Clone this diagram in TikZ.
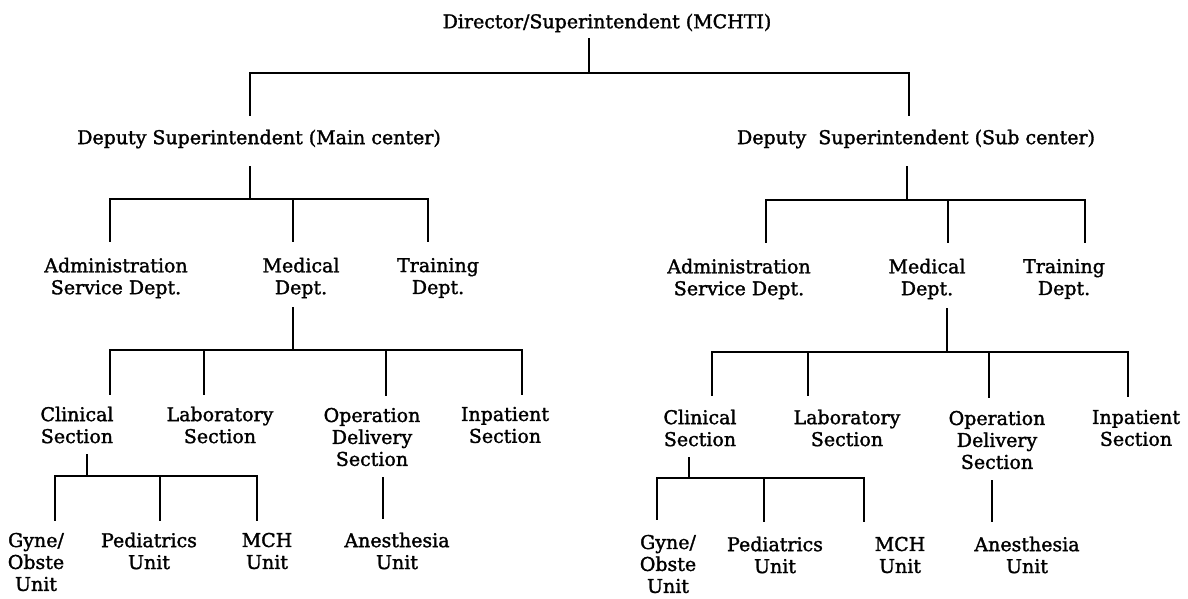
\documentclass[tikz,border=0pt]{standalone}
\usepackage{fontspec}
\setmainfont{DejaVu Serif}
\newfontfamily\chartfont[FakeBold=1.6]{DejaVu Serif}
\begin{document}
\begin{tikzpicture}[x=0.025cm, y=-0.025cm,
  unit/.style={align=center, inner sep=0pt, font=\chartfont\fontsize{13.5}{15.6}\selectfont},
  link/.style={line width=1.5pt, line cap=rect}]
\useasboundingbox (0,0) rectangle (1188,598);

% top level
\node[unit] (dir) at (607,23) {Director/Superintendent (MCHTI)};
\node[unit] (dm) at (259,139) {Deputy Superintendent (Main center)};
\node[unit] (ds) at (916,139) {Deputy\ \ Superintendent (Sub center)};

% main center
\node[unit] (admL) at (116,278) {Administration\\Service Dept.};
\node[unit] (medL) at (301,278) {Medical\\Dept.};
\node[unit] (trnL) at (438,278) {Training\\Dept.};
\node[unit] (cliL) at (77,425) {Clinical\\Section};
\node[unit] (labL) at (220,425) {Laboratory\\Section};
\node[unit] (opL) at (372,437) {Operation\\Delivery\\Section};
\node[unit] (inpL) at (505,425) {Inpatient\\Section};
\node[unit] (gynL) at (36,562) {Gyne/\\Obste\\Unit};
\node[unit] (pedL) at (149,551) {Pediatrics\\Unit};
\node[unit] (mchL) at (267,551) {MCH\\Unit};
\node[unit] (aneL) at (397,551) {Anesthesia\\Unit};

% sub center
\node[unit] (admR) at (739,279) {Administration\\Service Dept.};
\node[unit] (medR) at (927,279) {Medical\\Dept.};
\node[unit] (trnR) at (1064,279) {Training\\Dept.};
\node[unit] (cliR) at (700,428) {Clinical\\Section};
\node[unit] (labR) at (847,428) {Laboratory\\Section};
\node[unit] (opR) at (997,440) {Operation\\Delivery\\Section};
\node[unit] (inpR) at (1136,428) {Inpatient\\Section};
\node[unit] (gynR) at (668,564) {Gyne/\\Obste\\Unit};
\node[unit] (pedR) at (775,555) {Pediatrics\\Unit};
\node[unit] (mchR) at (900,555) {MCH\\Unit};
\node[unit] (aneR) at (1027,555) {Anesthesia\\Unit};

% director
\draw[link, shorten <=5pt] (589,0 |- dir.south) -- (589,73);
\draw[link, shorten <=10pt, shorten >=10pt] (250,0 |- dm.north) |- (909,73) -- (909,0 |- ds.north);

% deputies
\draw[link, shorten <=13pt] (250,0 |- dm.south) -- (250,199);
\draw[link, shorten <=12pt, shorten >=12pt] (110,0 |- admL.north) |- (428,199) -- (428,0 |- trnL.north);
\draw[link, shorten >=12pt] (293,199) -- (293,0 |- medL.north);
\draw[link, shorten <=13pt] (907,0 |- ds.south) -- (907,200);
\draw[link, shorten <=12pt, shorten >=12pt] (766,0 |- admR.north) |- (1085,200) -- (1085,0 |- trnR.north);
\draw[link, shorten >=12pt] (948,200) -- (948,0 |- medR.north);

% medical depts
\draw[link, shorten <=7pt] (293,0 |- medL.south) -- (293,350);
\draw[link, shorten <=9pt, shorten >=9pt] (110,0 |- cliL.north) |- (522,350) -- (522,0 |- inpL.north);
\foreach \x/\n in {204/labL, 386/opL}
  \draw[link, shorten >=9pt] (\x,350) -- (\x,0 |- \n.north);
\draw[link, shorten <=7pt] (947,0 |- medR.south) -- (947,352);
\draw[link, shorten <=10pt, shorten >=10pt] (712,0 |- cliR.north) |- (1128,352) -- (1128,0 |- inpR.north);
\foreach \x/\n in {808/labR, 989/opR}
  \draw[link, shorten >=10pt] (\x,352) -- (\x,0 |- \n.north);

% sections
\draw[link, shorten <=8pt] (87,0 |- cliL.south) -- (87,476);
\draw[link, shorten <=9pt, shorten >=9pt] (55,0 |- gynL.north) |- (257,476) -- (257,0 |- mchL.north);
\draw[link, shorten >=9pt] (160,476) -- (160,0 |- pedL.north);
\draw[link, shorten <=8pt, shorten >=10pt] (383,0 |- opL.south) -- (383,0 |- aneL.north);
\draw[link, shorten <=8pt] (689,0 |- cliR.south) -- (689,478);
\draw[link, shorten <=11pt, shorten >=11pt] (657,0 |- gynR.north) |- (864,478) -- (864,0 |- mchR.north);
\draw[link, shorten >=11pt] (764,478) -- (764,0 |- pedR.north);
\draw[link, shorten <=8pt, shorten >=11pt] (992,0 |- opR.south) -- (992,0 |- aneR.north);
\end{tikzpicture}
\end{document}
